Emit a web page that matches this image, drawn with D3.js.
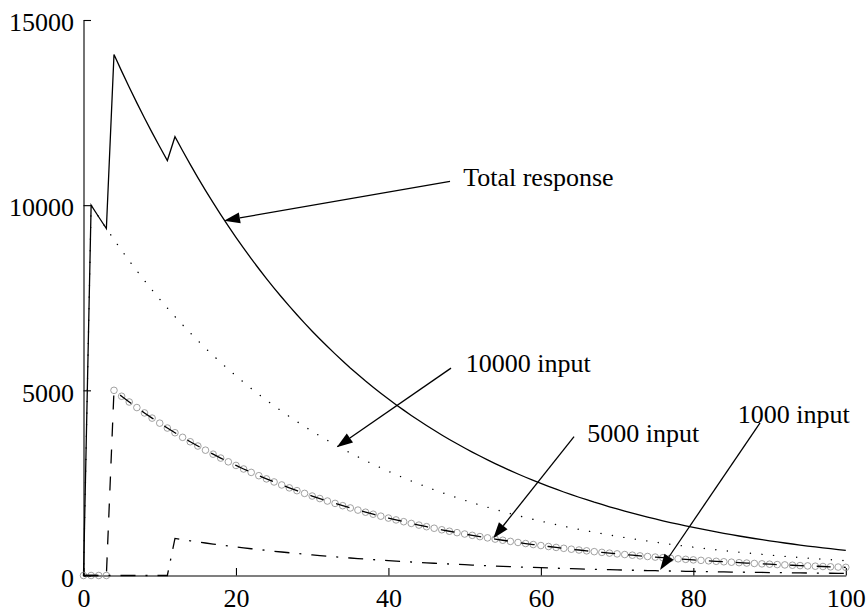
<!DOCTYPE html>
<html>
<head>
<meta charset="utf-8">
<script src="https://cdn.jsdelivr.net/npm/d3@7"></script>
<style>
  html, body { margin: 0; padding: 0; background: #fff; }
  svg { display: block; }
  svg text { font-family: 'Liberation Serif', 'Times New Roman', 'DejaVu Serif', serif; font-size: 26px; fill: #000; }
</style>
</head>
<body>
<svg id="chart" width="867" height="613"></svg>
<script>
// Sample times (one step per unit)
const time = d3.range(0, 101);

// Response to a single 10000 dose given at t = 1
const input10000 = [
  0, 10000, 9680, 9370, 9070, 8780, 8499, 8227, 7964, 7709,
  7462, 7224, 6992, 6769, 6552, 6342, 6139, 5943, 5753, 5569,
  5390, 5218, 5051, 4889, 4733, 4581, 4435, 4293, 4156, 4023,
  3894, 3769, 3649, 3532, 3419, 3309, 3204, 3101, 3002, 2906,
  2813, 2723, 2636, 2551, 2470, 2391, 2314, 2240, 2168, 2099,
  2032, 1967, 1904, 1843, 1784, 1727, 1672, 1618, 1566, 1516,
  1468, 1421, 1375, 1331, 1289, 1247, 1208, 1169, 1132, 1095,
  1060, 1026, 993, 962, 931, 901, 872, 844, 817, 791,
  766, 741, 718, 695, 672, 651, 630, 610, 590, 572,
  553, 536, 518, 502, 486, 470, 455, 441, 427, 413,
  400
];

// Response to a 5000 dose given at t = 4
const input5000 = [
  0, 0, 0, 0, 5000, 4840, 4685, 4535, 4390, 4250,
  4114, 3982, 3855, 3731, 3612, 3496, 3384, 3276, 3171, 3070,
  2972, 2876, 2784, 2695, 2609, 2526, 2445, 2367, 2291, 2217,
  2146, 2078, 2011, 1947, 1885, 1824, 1766, 1709, 1655, 1602,
  1551, 1501, 1453, 1406, 1361, 1318, 1276, 1235, 1195, 1157,
  1120, 1084, 1050, 1016, 983, 952, 921, 892, 863, 836,
  809, 783, 758, 734, 710, 688, 666, 644, 624, 604,
  584, 566, 548, 530, 513, 497, 481, 465, 451, 436,
  422, 409, 396, 383, 371, 359, 347, 336, 325, 315,
  305, 295, 286, 277, 268, 259, 251, 243, 235, 228,
  220
];

// Response to a 1000 dose given at t = 12
const input1000 = [
  0, 0, 0, 0, 0, 0, 0, 0, 0, 0,
  0, 0, 1000, 968, 937, 907, 878, 850, 823, 796,
  771, 746, 722, 699, 677, 655, 634, 614, 594, 575,
  557, 539, 522, 505, 489, 473, 458, 443, 429, 416,
  402, 389, 377, 365, 353, 342, 331, 320, 310, 300,
  291, 281, 272, 264, 255, 247, 239, 231, 224, 217,
  210, 203, 197, 190, 184, 178, 173, 167, 162, 157,
  152, 147, 142, 138, 133, 129, 125, 121, 117, 113,
  110, 106, 103, 99, 96, 93, 90, 87, 84, 82,
  79, 77, 74, 72, 69, 67, 65, 63, 61, 59,
  57
];

// Combined response of all three doses
const totalResponse = [
  0, 10000, 9680, 9370, 14070, 13620, 13184, 12762, 12354, 11959,
  11576, 11206, 11847, 11468, 11101, 10745, 10401, 10069, 9747, 9435,
  9133, 8840, 8557, 8283, 8019, 7762, 7514, 7274, 7041, 6815,
  6597, 6386, 6182, 5984, 5793, 5606, 5428, 5253, 5086, 4924,
  4766, 4613, 4466, 4322, 4184, 4051, 3921, 3795, 3673, 3556,
  3443, 3332, 3226, 3123, 3022, 2926, 2832, 2741, 2653, 2569,
  2487, 2407, 2330, 2255, 2183, 2113, 2047, 1980, 1918, 1856,
  1796, 1739, 1683, 1630, 1577, 1527, 1478, 1430, 1385, 1340,
  1298, 1256, 1217, 1177, 1139, 1103, 1067, 1033, 999, 969,
  937, 908, 878, 851, 823, 796, 771, 747, 723, 700,
  677
];

const xTicks = [0, 20, 40, 60, 80, 100];
const yTicks = [0, 5000, 10000, 15000];

// Annotation labels and arrows, in data units: [time, value]
const labels = ["Total response", "10000 input", "5000 input", "1000 input"];
const labelAt = [[49.8, 10527], [50.14, 5500], [66.09, 3616], [85.82, 4114]];
const arrowFrom = [[48.08, 10643], [48.21, 5600], [64.35, 3751], [88.75, 4122]];
const arrowTo = [[18.43, 9581], [33.22, 3465], [53.76, 1005], [75.63, 149]];

const svg = d3.select("#chart");

const x = d3.scaleLinear().domain([0, 100]).range([83.5, 845.8]);
const y = d3.scaleLinear().domain([0, 15000]).range([575.5, 20]);

// Axes: left and bottom only, ticks pointing inward
const gx = svg.append("g")
  .attr("transform", `translate(0,${y(0)})`)
  .call(d3.axisBottom(x).tickValues(xTicks).tickFormat(d3.format("d"))
    .tickSizeInner(-7.5).tickSizeOuter(0).tickPadding(0));
gx.attr("font-family", null).attr("font-size", null);
gx.selectAll("text").attr("dy", null).attr("y", 31).attr("fill", null);

const gy = svg.append("g")
  .attr("transform", `translate(${x(0)},0)`)
  .call(d3.axisLeft(y).tickValues(yTicks).tickFormat(d3.format("d"))
    .tickSizeInner(-7.5).tickSizeOuter(0).tickPadding(9.5));
gy.attr("font-family", null).attr("font-size", null);
gy.selectAll("text").attr("dy", "0.41em").attr("fill", null);

[gx, gy].forEach(g => {
  g.selectAll("path.domain").attr("stroke", "#000").attr("stroke-width", 1.1);
  g.selectAll(".tick line").attr("stroke", "#000").attr("stroke-width", 1.1);
});

const line = d3.line()
  .x((d, i) => x(time[i]))
  .y(d => y(d));

const plot = svg.append("g").attr("fill", "none");

// Total response: solid
plot.append("path").datum(totalResponse)
  .attr("d", line).attr("stroke", "#000").attr("stroke-width", 1.3);

// 10000 input: dotted
plot.append("path").datum(input10000)
  .attr("d", line).attr("stroke", "#000").attr("stroke-width", 1.4)
  .attr("stroke-linecap", "round")
  .attr("stroke-dasharray", "0.1,11.5");

// 5000 input: circle markers under a dashed line
plot.append("g").selectAll("circle").data(input5000).join("circle")
  .attr("cx", (d, i) => x(time[i]))
  .attr("cy", d => y(d))
  .attr("r", 3.3)
  .attr("fill", "none")
  .attr("stroke", "#8a8a8a")
  .attr("stroke-width", 0.8);

plot.append("path").datum(input5000)
  .attr("d", line).attr("stroke", "#000").attr("stroke-width", 1.3)
  .attr("stroke-dasharray", "14,13");

// 1000 input: dash-dot
plot.append("path").datum(input1000)
  .attr("d", line).attr("stroke", "#000").attr("stroke-width", 1.3)
  .attr("stroke-dasharray", "15,10,2,10");

// Annotations
const ann = svg.append("g");
labels.forEach((txt, i) => {
  const x1 = x(arrowFrom[i][0]), y1 = y(arrowFrom[i][1]);
  const x2 = x(arrowTo[i][0]), y2 = y(arrowTo[i][1]);
  const dx = x2 - x1, dy = y2 - y1, len = Math.hypot(dx, dy);
  const ux = dx / len, uy = dy / len;
  const headL = 16, headW = 5.5;
  const bx = x2 - ux * headL, by = y2 - uy * headL;
  ann.append("line")
    .attr("x1", x1).attr("y1", y1).attr("x2", bx).attr("y2", by)
    .attr("stroke", "#000").attr("stroke-width", 1.3);
  ann.append("path")
    .attr("d", `M${x2},${y2}L${bx - uy * headW},${by + ux * headW}L${bx + uy * headW},${by - ux * headW}Z`)
    .attr("fill", "#000");
  ann.append("text")
    .attr("x", x(labelAt[i][0])).attr("y", y(labelAt[i][1]))
    .text(txt);
});
</script>
</body>
</html>
